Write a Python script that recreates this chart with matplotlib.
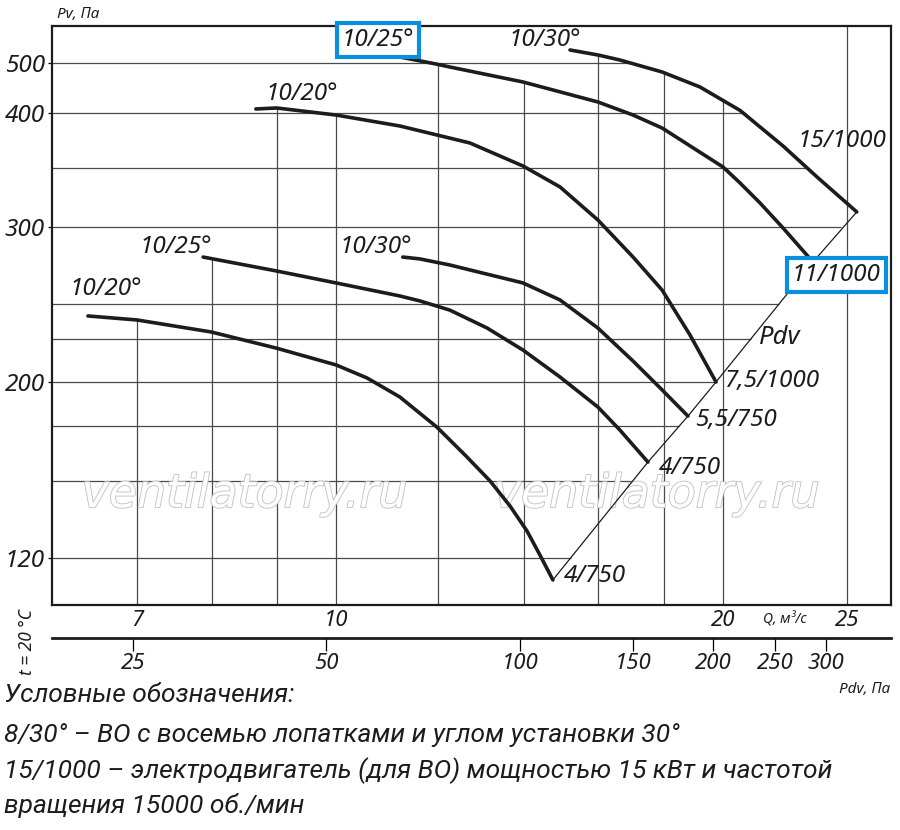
import numpy as np
import matplotlib
matplotlib.use("Agg")
import matplotlib.pyplot as plt
from matplotlib import patheffects

# fan curves: Q in m3/s, Pv in Pa
q_1 = [6.41, 7.00, 7.99, 8.98, 10.0, 10.57, 11.21, 11.98, 12.62, 13.18, 13.66, 14.08, 14.41, 14.75]
p_1 = [242.6, 240.0, 232.3, 221.9, 211.0, 202.6, 193.2, 179.5, 166.4, 155.0, 143.6, 132.3, 121.4, 110.0]

q_2 = [7.88, 8.99, 10.0, 11.21, 11.62, 12.26, 13.11, 13.98, 14.94, 15.99, 16.63, 17.49]
p_2 = [280.6, 271.6, 263.9, 255.5, 252.3, 246.4, 234.8, 220.6, 203.2, 188.6, 178.2, 163.6]

q_3 = [11.27, 11.62, 12.26, 12.71, 13.98, 14.94, 15.99, 17.03, 17.94, 18.79]
p_3 = [280.6, 279.4, 275.5, 272.3, 263.9, 252.9, 234.8, 213.5, 196.4, 184.5]

q_4 = [8.66, 8.99, 10.0, 11.21, 12.71, 13.98, 14.94, 15.99, 17.03, 17.94, 18.86, 19.76]
p_4 = [408, 410, 398.2, 388.6, 373.7, 353.5, 335.1, 306.1, 280.6, 259.3, 230.3, 200.0]

q_5 = [10.65, 11.21, 11.96, 12.26, 13.98, 15.99, 17.03, 17.94, 20.01, 20.63, 21.38, 22.28, 23.51]
p_5 = [522, 512, 498, 492, 462, 422, 398.2, 386.8, 352.6, 338.6, 321.1, 299.4, 277.4]

q_6 = [15.21, 15.99, 16.63, 17.94, 19.20, 20.63, 22.28, 23.68, 25.43]
p_6 = [526, 516, 506, 482, 452, 405.1, 371.1, 343.9, 313.2]

blade_labels = ["10/20°", "10/25°", "10/30°", "10/20°", "10/25°", "10/30°"]
motor_labels = ["4/750", "4/750", "5,5/750", "7,5/1000", "11/1000", "15/1000"]

q_ticks = [7, 10, 20, 25]
p_ticks = [120, 200, 300, 400, 500]
pdv_ticks = [25, 50, 100, 150, 200, 250, 300]
q_grid = [7, 8, 9, 10, 12, 14, 16, 18, 20]
q_grid_full = [25]
p_grid = [120, 155, 180, 200, 228, 250, 300, 352, 400, 500]

legend_lines = [
    "Условные обозначения:",
    "8/30° – ВО с восемью лопатками и углом установки 30°",
    "15/1000 – электродвигатель (для ВО) мощностью 15 кВт и частотой",
    "вращения 15000 об./мин",
]

curves = [(q_1, p_1), (q_2, p_2), (q_3, p_3), (q_4, p_4), (q_5, p_5), (q_6, p_6)]

plt.rcParams['font.family'] = ['Noto Sans', 'DejaVu Sans']
plt.rcParams['font.style'] = 'italic'
ink = '#1c1c1c'
grid_c = '#4a4a4a'

fig = plt.figure(figsize=(9, 8.3), dpi=100)
ax = fig.add_axes([0.0578, 0.2711, 0.9322, 0.6976])

# the printed Pv axis is not an even log scale, so map it piece by piece
p_anchor = [98.6, 120, 200, 300, 400, 500, 574]
pos_anchor = [0, 47, 223, 378, 492, 542, 579]


def fwd(p):
    return np.interp(p, p_anchor, pos_anchor)


def inv(s):
    return np.interp(s, pos_anchor, p_anchor)


ax.set_xscale('log')
ax.set_yscale('function', functions=(fwd, inv))
ax.set_xlim(6.01, 27.04)
ax.set_ylim(98.6, 574)

# grid: verticals stop at the top curve, horizontals at the right boundary
for q in q_grid:
    tops = [np.interp(np.log(q), np.log(qc), pc) for qc, pc in curves if qc[0] <= q <= qc[-1]]
    ax.vlines(q, 98.6, max(tops), color=grid_c, lw=0.9, zorder=1)
for q in q_grid_full:
    ax.vlines(q, 98.6, 574, color=grid_c, lw=0.9, zorder=1)

ends_q = [c[0][-1] for c in curves]
ends_p = [c[1][-1] for c in curves]
for p in p_grid:
    if p < ends_p[-1]:
        qe = np.exp(np.interp(p, ends_p, np.log(ends_q)))
    else:
        qe = np.exp(np.interp(p, p_6[::-1], np.log(q_6[::-1])))
    ax.hlines(p, 6.01, qe, color=grid_c, lw=0.9, zorder=1)

# watermark sits over the grid but under the curves
for xw in [0.272, 0.730]:
    ax.text(xw, 0.404, "ventilatorry.ru", transform=fig.transFigure, ha='center', va='center',
            fontsize=33, color='white', family='DejaVu Sans', style='oblique', zorder=2,
            path_effects=[patheffects.Stroke(linewidth=1.3, foreground='#c4c4c4'),
                          patheffects.Normal()])

for qc, pc in curves:
    ax.plot(qc, pc, color=ink, lw=2.6, solid_capstyle='round', solid_joinstyle='round', zorder=4)

# Pdv line through the curve ends
ax.plot(ends_q, ends_p, color=ink, lw=0.9, zorder=3)

blade_off = [(13, 19.4), (-19.4, 7.2), (-19.4, 7.2), (33, 10.8), (4.7, 8.6), (-18, 7.2)]
motor_off = [(30, 2.9), (30, -4.3), (34.6, -2.9), (40.3, 0.7), (16.9, -9.4), (-10.8, 51)]
highlight = 4
box = dict(boxstyle='square,pad=0.2', fc='white', ec='#0a8fdf', lw=3)
for i, (qc, pc) in enumerate(curves):
    ax.annotate(blade_labels[i], (qc[0], pc[0]), xytext=blade_off[i], textcoords='offset points',
                ha='center', va='center', fontsize=17.5, color=ink, zorder=6,
                bbox=box if i == highlight else None)
    ax.annotate(motor_labels[i], (qc[-1], pc[-1]), xytext=motor_off[i], textcoords='offset points',
                ha='center', va='center', fontsize=17.5, color=ink, zorder=6,
                bbox=box if i == highlight else None)
ax.annotate("Pdv", (q_4[-1], p_4[-1]), xytext=(46, 31.7), textcoords='offset points',
            ha='center', va='center', fontsize=18.5, color=ink)

for s in ax.spines.values():
    s.set_linewidth(1.6)
    s.set_color(ink)
    s.set_zorder(5)

ax.xaxis.set_major_locator(matplotlib.ticker.FixedLocator(q_ticks))
ax.xaxis.set_major_formatter(matplotlib.ticker.FixedFormatter([str(v) for v in q_ticks]))
ax.xaxis.set_minor_locator(matplotlib.ticker.NullLocator())
ax.yaxis.set_major_locator(matplotlib.ticker.FixedLocator(p_ticks))
ax.yaxis.set_major_formatter(matplotlib.ticker.FixedFormatter([str(v) for v in p_ticks]))
ax.yaxis.set_minor_locator(matplotlib.ticker.NullLocator())
ax.tick_params(axis='x', length=0, pad=3.6, labelsize=16, labelcolor=ink)
ax.tick_params(axis='y', length=3, width=0.9, pad=2, labelsize=17.5, labelcolor=ink)

k = 1.39
sec = ax.secondary_xaxis(-0.057, functions=(lambda q: (q / k) ** 2,
                                            lambda p: k * np.sqrt(np.maximum(p, 1e-9))))
sec.xaxis.set_major_locator(matplotlib.ticker.FixedLocator(pdv_ticks))
sec.xaxis.set_major_formatter(matplotlib.ticker.FixedFormatter([str(v) for v in pdv_ticks]))
sec.xaxis.set_minor_locator(matplotlib.ticker.NullLocator())
sec.tick_params(axis='x', direction='out', length=9, width=0.9, pad=2, labelsize=16, labelcolor=ink)
for s in sec.spines.values():
    s.set_linewidth(2)
    s.set_color(ink)

fig.text(0.0633, 0.983, "Pv, Па", ha='left', va='center', fontsize=11, color=ink)
fig.text(0.030, 0.2265, "t = 20 °C", ha='center', va='center', rotation=90, fontsize=12.5, color=ink)
fig.text(0.872, 0.253, "Q, м³/с", ha='center', va='center', fontsize=10, color=ink)
fig.text(0.989, 0.169, "Pdv, Па", ha='right', va='center', fontsize=11, color=ink)

for yl, line in zip([0.163, 0.114, 0.072, 0.030], legend_lines):
    fig.text(0.004, yl, line, ha='left', va='center', fontsize=19, color=ink,
             family=['Roboto', 'DejaVu Sans'])

fig.savefig("out.png", dpi=100)
